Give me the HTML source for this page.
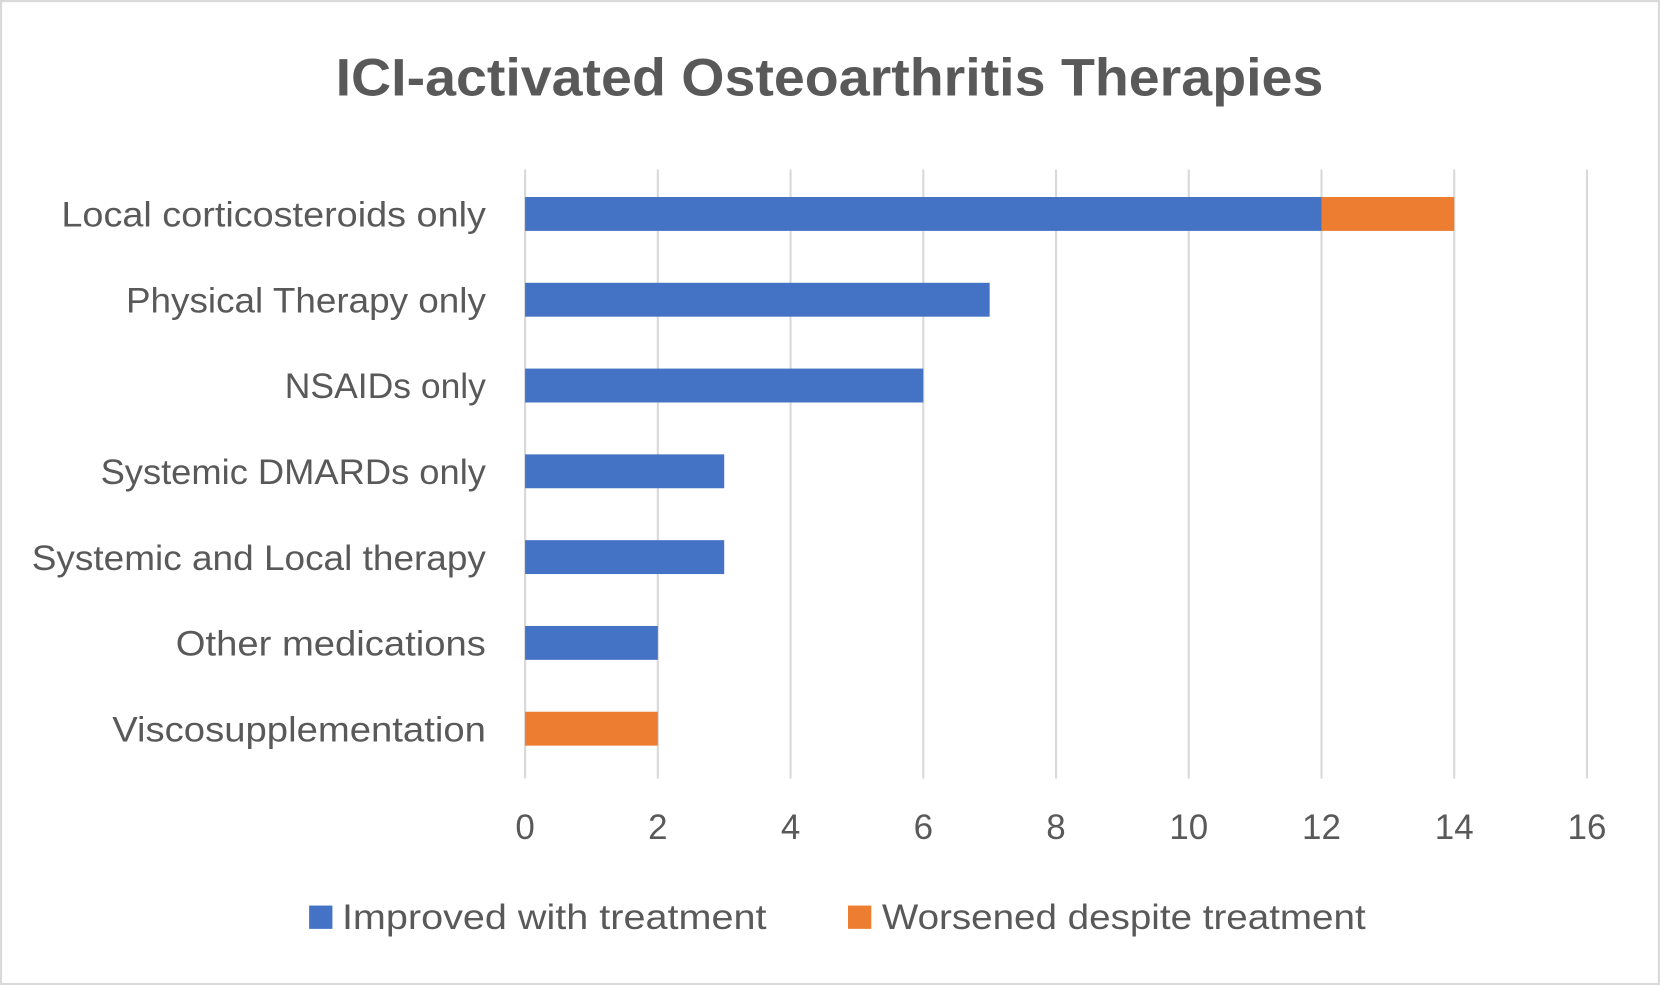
<!DOCTYPE html>
<html><head><meta charset="utf-8"><style>
html,body{margin:0;padding:0;background:#fff;}
svg{display:block;font-family:"Liberation Sans",Calibri,sans-serif;}
</style></head><body>
<svg id="chart" width="1660" height="985" viewBox="0 0 1568 930" preserveAspectRatio="none">
<rect x="1" y="1" width="1566" height="928" fill="#fff" stroke="#d9d9d9" stroke-width="2"/>
<text x="317" y="90" textLength="933" lengthAdjust="spacingAndGlyphs" font-size="50" font-weight="bold" fill="#595959">ICI-activated Osteoarthritis Therapies</text>
<g id="grid"></g>
<g id="bars"></g>
<g id="labels"></g>
<g id="ticks"></g>
<rect x="292" y="855" width="22" height="22" fill="#4472c4"/>
<text x="323" y="877" textLength="401" lengthAdjust="spacingAndGlyphs" font-size="33" fill="#595959">Improved with treatment</text>
<rect x="801" y="855" width="22" height="22" fill="#ed7d31"/>
<text x="833" y="877" textLength="457" lengthAdjust="spacingAndGlyphs" font-size="33" fill="#595959">Worsened despite treatment</text>
</svg>
<script>
const categories=["Local corticosteroids only","Physical Therapy only","NSAIDs only","Systemic DMARDs only","Systemic and Local therapy","Other medications","Viscosupplementation"];
const improved=[12,7,6,3,3,2,0];
const worsened=[2,0,0,0,0,0,2];
const ticks=[0,2,4,6,8,10,12,14,16];
const NS="http://www.w3.org/2000/svg";
const labelTextWidths={"Local corticosteroids only":401,"Physical Therapy only":340,"NSAIDs only":190,"Systemic DMARDs only":364,"Systemic and Local therapy":429,"Other medications":293,"Viscosupplementation":353};
const x0=496,x1=1499,vmax=16,yTop=160,yBot=735,rowH=81,firstY=202,barH=32;
const xs=v=>x0+(v/vmax)*(x1-x0);
const ys=i=>firstY+i*rowH;
function mk(tag,attrs,parent){const e=document.createElementNS(NS,tag);for(const k in attrs)e.setAttribute(k,attrs[k]);document.getElementById(parent).appendChild(e);return e;}
ticks.forEach(t=>{
  const l=mk('line',{x1:xs(t),x2:xs(t),y1:yTop,y2:yBot,stroke:'#d9d9d9','stroke-width':2},'grid');
  
  
  const tx=mk('text',{x:xs(t),y:792,'text-anchor':'middle','font-size':33,fill:'#595959'},'ticks');
  tx.textContent=t;
  
  
});
categories.forEach((c,i)=>{
  const y=ys(i);
  const attrs={x:459,y:y+12,'text-anchor':'end','font-size':33,fill:'#595959'};
  if(labelTextWidths[c]){attrs.textLength=labelTextWidths[c];attrs.lengthAdjust='spacingAndGlyphs';}
  const lb=mk('text',attrs,'labels');
  lb.textContent=c;
  
  
  if(improved[i]>0){
    const b=mk('rect',{x:xs(0),y:y-barH/2,width:xs(improved[i])-xs(0),height:barH,fill:'#4472c4'},'bars');
    
    
  }
  if(worsened[i]>0){
    const b=mk('rect',{x:xs(improved[i]),y:y-barH/2,width:xs(improved[i]+worsened[i])-xs(improved[i]),height:barH,fill:'#ed7d31'},'bars');
    
    
  }
});
</script>
</body></html>
